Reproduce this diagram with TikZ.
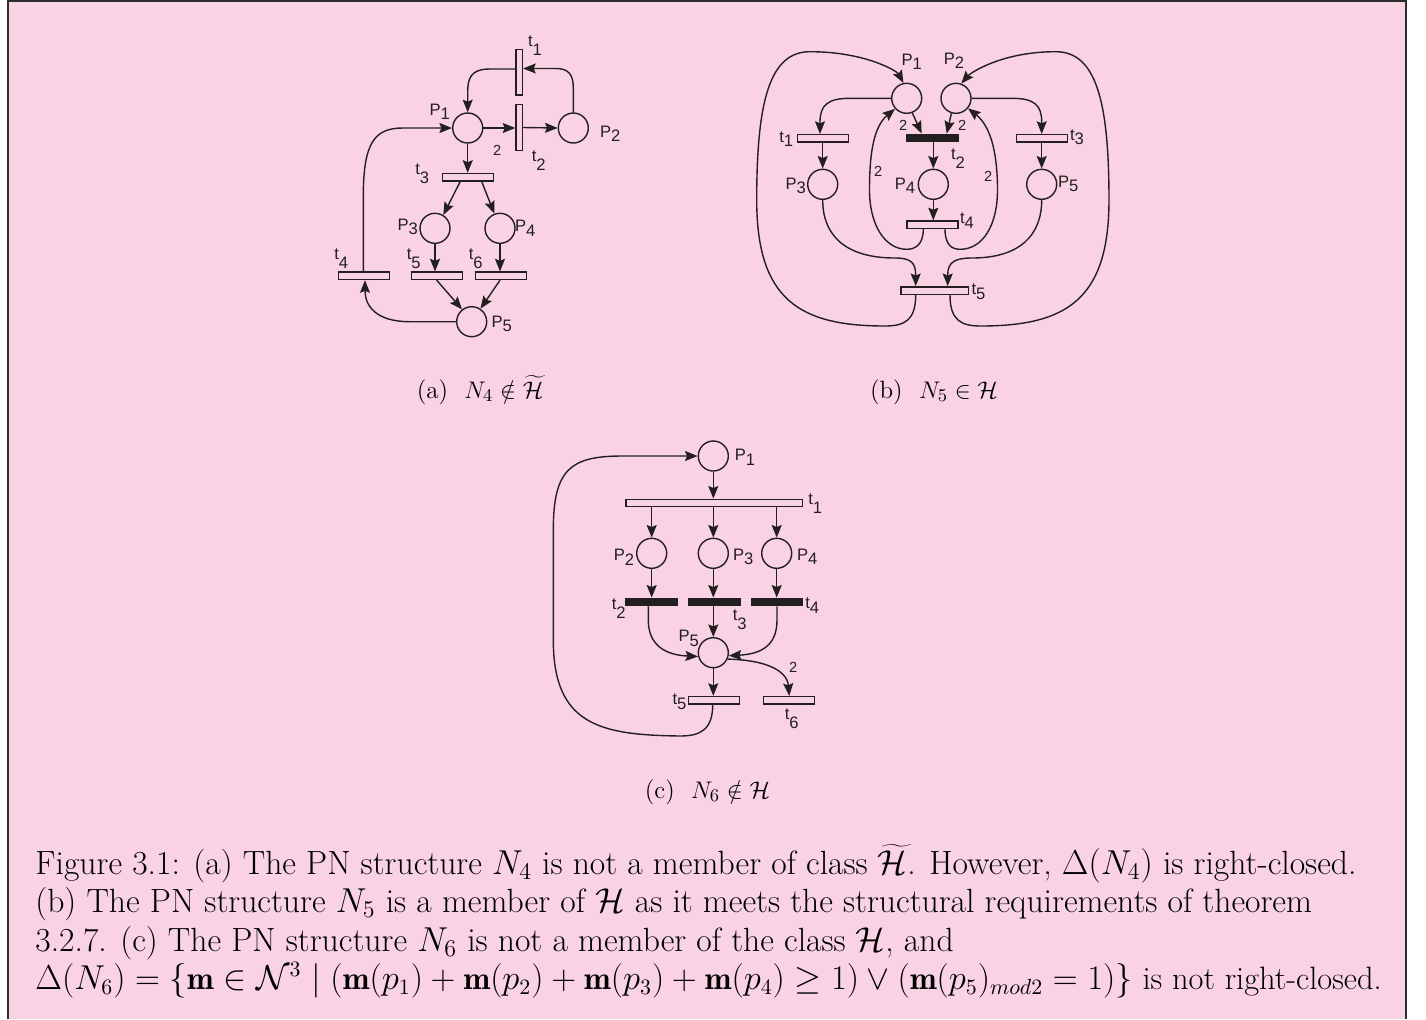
\documentclass[tikz,border=0pt]{standalone}
\usepackage{fontspec}
\newfontfamily\labfont{Liberation Sans}
\usetikzlibrary{arrows.meta,calc}
\definecolor{bg}{RGB}{249,211,228}
\definecolor{lc}{RGB}{35,31,32}
\definecolor{frame}{RGB}{45,45,45}
\newcommand\PL[2]{#1\raisebox{-0.28em}{#2}}
\newcommand\TL[2]{#1\raisebox{-0.55em}{#2}}
\tikzset{
  place/.style={circle, draw=lc, line width=0.7pt, minimum size=15pt, inner sep=0pt},
  htr/.style={rectangle, draw=lc, line width=0.7pt, minimum width=25.5pt, minimum height=3.7pt, inner sep=0pt},
  vtr/.style={rectangle, draw=lc, line width=0.7pt, minimum width=3.2pt, minimum height=22.8pt, inner sep=0pt},
  btr/.style={htr, fill=lc},
  arc/.style={draw=lc, line width=0.7pt, -{Stealth[length=6.3pt,width=5pt,inset=1pt]}},
  lab/.style={font=\labfont\fontsize{8.3}{9}\selectfont, text=lc, inner sep=0pt},
  wlab/.style={font=\labfont\fontsize{7.3}{8}\selectfont, text=lc, inner sep=0pt},
  captext/.style={font=\fontsize{16.8}{19}\selectfont, inner sep=0pt, anchor=base west},
  subcap/.style={font=\fontsize{12.5}{14}\selectfont, inner sep=0pt, anchor=base}
}
\begin{document}
\begin{tikzpicture}[x=0.5pt,y=-0.5pt]
\useasboundingbox (0,0) rectangle (1426,1019);
\fill[bg] (7,0) rectangle (1406,1019);
\draw[frame, line width=1pt] (7.5,1019) -- (7.5,0.8) -- (1405.5,0.8) -- (1405.5,1019);

% ---------------- (a) ----------------
\node[place] (aP1) at (467.7,128) {};
\node[place] (aP2) at (573.3,128) {};
\node[vtr] (at1) at (519.2,72) {};
\node[vtr] (at2) at (519.2,127.5) {};
\node[htr] (at3) at (468.2,177.2) {};
\node[place] (aP3) at (435,228.3) {};
\node[place] (aP4) at (500,228.3) {};
\node[htr] (at4) at (363.8,275.8) {};
\node[htr] (at5) at (436.7,275.8) {};
\node[htr] (at6) at (500.7,275.8) {};
\node[place] (aP5) at (471.7,321.7) {};

\node[lab] (laP1) at (439.7,111.7) {\PL{P}{1}};
\node[lab] (laP2) at (610.3,133.7) {\PL{P}{2}};
\node[lab] (laP3) at (407.7,226.7) {\PL{P}{3}};
\node[lab] (laP4) at (525.3,228.3) {\PL{P}{4}};
\node[lab] (laP5) at (501.7,324) {\PL{P}{5}};
\node[lab] (lat1) at (535,45.7) {\TL{t}{1}};
\node[lab] (lat2) at (538.7,160.7) {\TL{t}{2}};
\node[lab] (lat3) at (422.3,174) {\TL{t}{3}};
\node[lab] (lat4) at (341.3,258.3) {\TL{t}{4}};
\node[lab] (lat5) at (413.7,258.3) {\TL{t}{5}};
\node[lab] (lat6) at (475.7,259) {\TL{t}{6}};
\node[wlab] (la2) at (497.3,150) {2};

\draw[arc] ($(at1.west)+(0,-3)$) -- (490,69) .. controls (471,69) and (467.7,78) .. (467.7,92) -- (aP1.north);
\draw[arc] (aP2.north) -- (573.3,88) .. controls (573.3,74) and (568,68.5) .. (556,68.5) -- ($(at1.east)+(0,-3.5)$);
\draw[arc] (aP1.east) -- (aP1.east -| at2.west);
\draw[arc] (at2.east) -- (aP2.west);
\draw[arc] (aP1.south) -- (aP1.south |- at3.north);
\draw[arc] ($(at3.south)+(-8,0)$) -- (aP3.58);
\draw[arc] ($(at3.south)+(13.5,0)$) -- (aP4.111);
\draw[arc] (aP3.south) -- (aP3.south |- at5.north);
\draw[arc] (aP4.south) -- (aP4.south |- at6.north);
\draw[arc] (at5.south) -- (aP5.128);
\draw[arc] ($(at6.south)+(-0.7,0)$) -- (aP5.56);
\draw[arc] (aP5.west) -- (410,321.7) .. controls (376,321.7) and (365,306) .. ($(at4.south)+(1.2,0)$);
\draw[arc] ($(at4.north)+(-0.5,0)$) -- (363.3,196) .. controls (363.3,142) and (375,128) .. (403,128) -- (aP1.west);

% ---------------- (b) ----------------
\node[place] (bP1) at (906.7,98.3) {};
\node[place] (bP2) at (956,98.3) {};
\node[htr] (bt1) at (822.8,138.3) {};
\node[btr] (bt2) at (932.5,138) {};
\node[htr] (bt3) at (1042.2,138.3) {};
\node[place] (bP3) at (822.7,184.3) {};
\node[place] (bP4) at (933.3,184.3) {};
\node[place] (bP5) at (1041.7,184.3) {};
\node[htr] (bt4) at (932.5,224.7) {};
\node[htr, minimum width=33.6pt] (bt5) at (934.7,290.5) {};

\node[lab] (lbP1) at (911.7,61.7) {\PL{P}{1}};
\node[lab] (lbP2) at (954,60.7) {\PL{P}{2}};
\node[lab] (lbP3) at (795.7,185.7) {\PL{P}{3}};
\node[lab] (lbP4) at (905,185.7) {\PL{P}{4}};
\node[lab] (lbP5) at (1068.3,184) {\PL{P}{5}};
\node[lab] (lbt1) at (786.3,139) {\PL{t}{1}};
\node[lab] (lbt2) at (958,158.3) {\TL{t}{2}};
\node[lab] (lbt3) at (1077,137.3) {\PL{t}{3}};
\node[lab] (lbt4) at (967,220.7) {\PL{t}{4}};
\node[lab] (lbt5) at (978.5,291.7) {\PL{t}{5}};
\node[wlab] (lb2a) at (903.3,125) {2};
\node[wlab] (lb2b) at (962.3,125) {2};
\node[wlab] (lb2c) at (878.3,171) {2};
\node[wlab] (lb2d) at (988.3,176) {2};

\draw[arc] (bP1.west) -- (850,98.3) .. controls (828,98.3) and (820,105) .. (820,122) -- ($(bt1.north)+(-2.8,0)$);
\draw[arc] (bP3.north |- bt1.south) -- (bP3.north);
\draw[arc] (bP2.east) -- (1012,98.3) .. controls (1034,98.3) and (1041.7,105) .. (1041.7,122) -- ($(bt3.north)+(-0.5,0)$);
\draw[arc] (bP5.north |- bt3.south) -- (bP5.north);
\draw[arc] (bP1.291) -- ($(bt2.north)+(-10.8,0)$);
\draw[arc] (bP2.253) -- ($(bt2.north)+(14.2,0)$);
\draw[arc] (bP4.north |- bt2.south) -- (bP4.north);
\draw[arc] (bP4.south) -- (bP4.south |- bt4.north);
\draw[arc] ($(bt4.south)+(-9.2,0)$) .. controls (923.3,245) and (915,249.3) .. (906.7,249.3) .. controls (885,249.3) and (869.5,225) .. (869.5,190) .. controls (869.5,160) and (872,128) .. (bP1.222);
\draw[arc] ($(bt4.south)+(12.5,0)$) .. controls (945,245) and (952,249.3) .. (960,249.3) .. controls (983,249.3) and (997.5,225) .. (997.5,190) .. controls (997.5,160) and (993,128) .. (bP2.320);
\draw[arc] (bP3.south) .. controls (822.7,235) and (845,258) .. (895,258) .. controls (910,258) and (915.7,262) .. (915.7,275) -- ($(bt5.north)+(-19,0)$);
\draw[arc] (bP5.south) .. controls (1041.7,235) and (1020,258) .. (972,258) .. controls (955,258) and (947.7,262) .. (947.7,275) -- ($(bt5.north)+(13,0)$);
\draw[arc] ($(bt5.south)+(-19,0)$) .. controls (915.7,320) and (905,326) .. (885,326) .. controls (800,326) and (756.7,300) .. (756.7,200) .. controls (756.7,100) and (770,51.7) .. (810,51.7) .. controls (865,51.7) and (897,71) .. (bP1.102);
\draw[arc] ($(bt5.south)+(15.3,0)$) .. controls (950,320) and (960.7,326) .. (980.7,326) .. controls (1065.7,326) and (1109,300) .. (1109,200) .. controls (1109,100) and (1095.7,51.7) .. (1055.7,51.7) .. controls (1000.7,51.7) and (969.7,73.7) .. (bP2.70);

% ---------------- (c) ----------------
\node[place] (cP1) at (713.3,456) {};
\node[htr, minimum width=88.2pt] (ct1) at (714.2,503) {};
\node[place] (cP2) at (651.7,553.3) {};
\node[place] (cP3) at (713.3,553.3) {};
\node[place] (cP4) at (776.7,553.3) {};
\node[btr] (ct2) at (651.3,602) {};
\node[btr] (ct3) at (714.3,602) {};
\node[btr] (ct4) at (777,602) {};
\node[place] (cP5) at (713.3,652.7) {};
\node[htr] (ct5) at (714.2,700.3) {};
\node[htr] (ct6) at (788.8,700.3) {};

\node[lab] (lcP1) at (745,457.3) {\PL{P}{1}};
\node[lab] (lcP2) at (624,557.3) {\PL{P}{2}};
\node[lab] (lcP3) at (743.3,556.7) {\PL{P}{3}};
\node[lab] (lcP4) at (807.3,556.7) {\PL{P}{4}};
\node[lab] (lcP5) at (688.7,638.3) {\PL{P}{5}};
\node[lab] (lct1) at (815.3,504) {\TL{t}{1}};
\node[lab] (lct2) at (618.7,608.3) {\TL{t}{2}};
\node[lab] (lct3) at (739.7,620) {\TL{t}{3}};
\node[lab] (lct4) at (812.3,605.7) {\PL{t}{4}};
\node[lab] (lct5) at (679.5,701.7) {\PL{t}{5}};
\node[lab] (lct6) at (791.7,719) {\TL{t}{6}};
\node[wlab] (lc2) at (793.3,667.3) {2};

\draw[arc] (cP1.south) -- (cP1.south |- ct1.north);
\draw[arc] (cP2.north |- ct1.south) -- (cP2.north);
\draw[arc] (cP3.north |- ct1.south) -- (cP3.north);
\draw[arc] (cP4.north |- ct1.south) -- (cP4.north);
\draw[arc] (cP2.south) -- (cP2.south |- ct2.north);
\draw[arc] (cP3.south) -- (cP3.south |- ct3.north);
\draw[arc] (cP4.south) -- (cP4.south |- ct4.north);
\draw[arc] ($(ct2.south)+(-3,0)$) -- (648.3,620) .. controls (648.3,645) and (665,655) .. (cP5.194);
\draw[arc] (cP5.north |- ct3.south) -- (cP5.north);
\draw[arc] (ct4.south) -- (777,620) .. controls (777,645) and (762,654) .. (cP5.349);
\draw[arc] (cP5.south) -- (cP5.south |- ct5.north);
\draw[arc] (cP5.336) .. controls (765,660) and (787,670) .. ($(ct6.north)+(0.5,0)$);
\draw[arc] ($(ct5.south)+(-1.5,0)$) .. controls (712.7,730) and (700,736) .. (680,736) .. controls (600,735) and (553.3,725) .. (553.3,640) -- (553.3,530) .. controls (553.3,470) and (570,456.5) .. (620,456) -- (cP1.west);

% ---------------- captions ----------------
\node[subcap] (capa) at (480,398) {(a)\ \ $N_4 \notin \widetilde{\mathcal{H}}$};
\node[subcap] (capb) at (934,398) {(b)\ \ $N_5 \in \mathcal{H}$};
\node[subcap] (capc) at (707.5,798) {(c)\ \ $N_6 \notin \mathcal{H}$};

\node[captext] (cap1) at (35,874) {Figure 3.1: (a) The PN structure $N_4$ is not a member of class $\widetilde{\mathcal{H}}$. However, $\Delta(N_4)$ is right-closed.};
\node[captext] (cap2) at (35,912.5) {(b) The PN structure $N_5$ is a member of $\mathcal{H}$ as it meets the structural requirements of theorem};
\node[captext] (cap3) at (35,951) {3.2.7. (c) The PN structure $N_6$ is not a member of the class $\mathcal{H}$, and};
\node[captext, font=\fontsize{16.2}{19}\selectfont] (cap4) at (35,989.5) {$\Delta(N_6) = \{\mathbf{m} \in \mathcal{N}^3 \mid (\mathbf{m}(p_1) + \mathbf{m}(p_2) + \mathbf{m}(p_3) + \mathbf{m}(p_4) \geq 1) \vee (\mathbf{m}(p_5)_{mod2} = 1)\}$ is not right-closed.};
\end{tikzpicture}
\end{document}
